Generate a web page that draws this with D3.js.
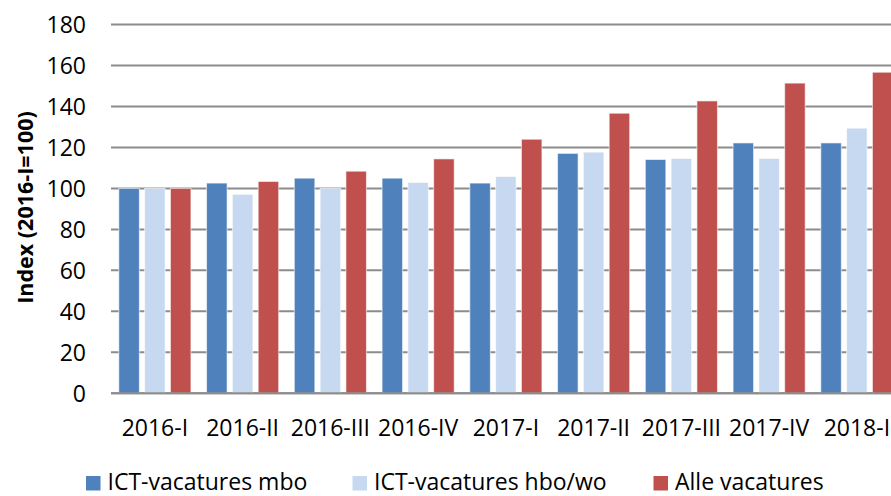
<!DOCTYPE html>
<html>
<head>
<meta charset="utf-8">
<script src="https://cdn.jsdelivr.net/npm/d3@7"></script>
<style>
  body { margin: 0; background: #fff; }
  svg { display: block; font-family: "Open Sans", sans-serif; }
</style>
</head>
<body>
<svg id="chart" width="891" height="496"></svg>
<script>
// quarters and index values (2016-I = 100)
const quarters = ["2016-I", "2016-II", "2016-III", "2016-IV", "2017-I", "2017-II", "2017-III", "2017-IV", "2018-I"];
const mbo = [100, 102.6, 105, 105, 102.6, 117.1, 114.1, 122.2, 122.2];
const hbo = [100, 97.1, 100, 102.9, 105.8, 117.7, 114.6, 114.6, 129.4];
const alle = [100, 103.4, 108.4, 114.4, 124, 136.7, 142.7, 151.4, 156.7];
const seriesNames = ["ICT-vacatures mbo", "ICT-vacatures hbo/wo", "Alle vacatures"];
const seriesColors = ["#4F81BD", "#C6D9F0", "#C0504D"];
const yTicks = [0, 20, 40, 60, 80, 100, 120, 140, 160, 180];

const series = [mbo, hbo, alle];

const svg = d3.select("#chart");
const plotLeft = 111, plotRight = 900.75, plotTop = 24.5, plotBottom = 393.3;

const x = d3.scaleBand().domain(quarters).range([plotLeft, plotRight]).padding(0);
const xs = d3.scaleBand().domain(d3.range(3)).range([0, x.bandwidth()])
  .paddingInner(0.205).paddingOuter(0.303);
const y = d3.scaleLinear().domain([0, 180]).range([plotBottom, plotTop]);

// gridlines
svg.append("g").selectAll("line")
  .data(yTicks)
  .join("line")
  .attr("x1", plotLeft).attr("x2", 891)
  .attr("y1", d => y(d)).attr("y2", d => y(d))
  .attr("stroke", "#8c8c8c")
  .attr("stroke-width", 2);

// y tick labels
svg.append("g").selectAll("text")
  .data(yTicks)
  .join("text")
  .attr("x", 86)
  .attr("y", d => y(d))
  .attr("dy", "0.36em")
  .attr("text-anchor", "end")
  .attr("font-size", "23px")
  .attr("fill", "#000")
  .text(d => d);

// bars
const groups = svg.append("g").selectAll("g")
  .data(quarters)
  .join("g")
  .attr("transform", d => `translate(${x(d)},0)`);

groups.selectAll("rect")
  .data((q, i) => series.map((s, k) => ({ k, v: s[i] })))
  .join("rect")
  .attr("x", d => xs(d.k))
  .attr("width", xs.bandwidth())
  .attr("y", d => y(d.v))
  .attr("height", d => plotBottom - y(d.v))
  .attr("fill", d => seriesColors[d.k])
  .attr("stroke", "rgba(255,255,255,0.6)")
  .attr("stroke-width", 1);

// baseline
svg.append("line")
  .attr("x1", plotLeft).attr("x2", 891)
  .attr("y1", plotBottom).attr("y2", plotBottom)
  .attr("stroke", "#8c8c8c")
  .attr("stroke-width", 2);

// x labels
svg.append("g").selectAll("text")
  .data(quarters)
  .join("text")
  .attr("x", d => x(d) + x.bandwidth() / 2)
  .attr("y", 436)
  .attr("text-anchor", "middle")
  .attr("font-size", "23px")
  .attr("fill", "#000")
  .text(d => d);

// y axis title
svg.append("text")
  .attr("transform", "translate(33,207.5) rotate(-90)")
  .attr("text-anchor", "middle")
  .attr("font-size", "21.5px")
  .attr("font-weight", "bold")
  .attr("fill", "#000")
  .text("Index (2016-I=100)");

// legend
const legendX = [86, 352.5, 653.5];
const legend = svg.append("g").selectAll("g")
  .data(seriesNames)
  .join("g")
  .attr("transform", (d, i) => `translate(${legendX[i]},476)`);
legend.append("rect")
  .attr("width", 14.5).attr("height", 14.5)
  .attr("fill", (d, i) => seriesColors[i]);
legend.append("text")
  .attr("x", 21.5)
  .attr("y", 13.5)
  .attr("font-size", "23px")
  .attr("fill", "#000")
  .text(d => d);
</script>
</body>
</html>
